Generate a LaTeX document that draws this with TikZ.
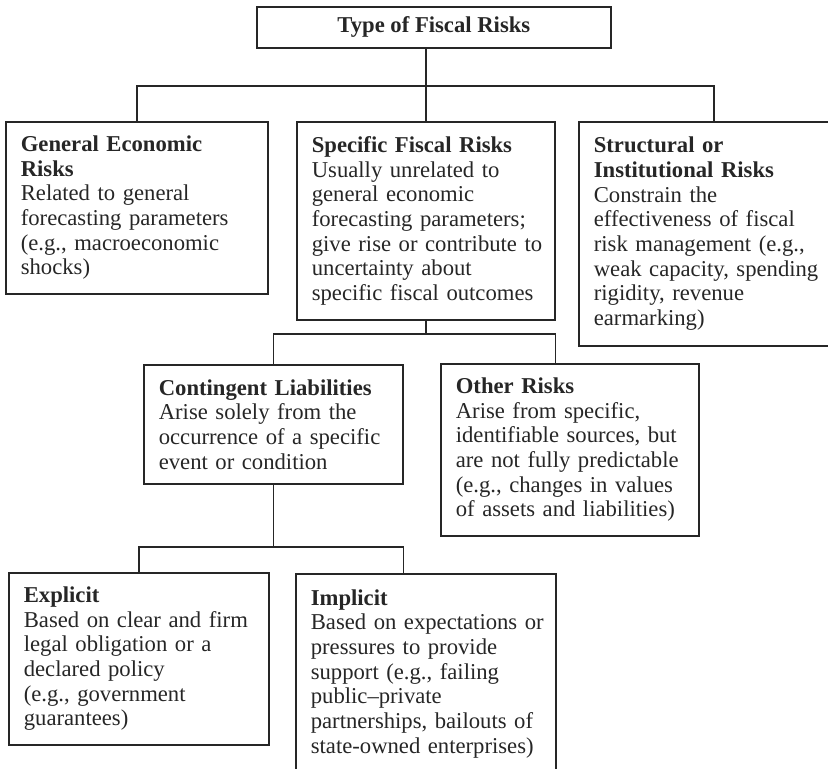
\documentclass[tikz,border=0pt]{standalone}
\usepackage{fontspec}
\setmainfont{Liberation Serif}
\usepackage{tikz}
\usetikzlibrary{positioning}
\definecolor{inkgray}{HTML}{262626}
\tikzset{
  risk/.style={draw=inkgray, line width=1pt, anchor=north west, align=left,
               inner xsep=9pt, inner ysep=0pt, text=inkgray,
               font=\fontsize{13.6}{14.8}\selectfont},
  head/.style={draw=inkgray, line width=1pt, anchor=north west, align=center,
               inner sep=0pt, text=inkgray, font=\fontsize{13.6}{14.8}\selectfont\bfseries},
  link/.style={draw=inkgray, line width=0.9pt},
}

\begin{document}
\begin{tikzpicture}[x=0.6pt, y=-0.6pt]
  \useasboundingbox (0,0) rectangle (828,769);
  \node[head, minimum width=212.4pt, minimum height=24.6pt] (top) at (256,6) {Type of Fiscal Risks};
  \node[risk, text width=139.2pt, minimum height=103.2pt] (gen) at (5,121)
    {\textbf{General Economic}\\ \textbf{Risks}\\ Related to general\\ forecasting parameters\\ (e.g., macroeconomic\\ shocks)};
  \node[risk, text width=136.8pt, minimum height=118.8pt] (spec) at (296,121)
    {\textbf{Specific Fiscal Risks}\\ Usually unrelated to\\ general economic\\ forecasting parameters;\\ \mbox{give rise or contribute to}\\ uncertainty about\\ specific fiscal outcomes};
  \node[risk, text width=144pt, minimum height=134.4pt] (struct) at (578,121)
    {\textbf{Structural or}\\ \textbf{Institutional Risks}\\ Constrain the\\ effectiveness of fiscal\\ risk management (e.g.,\\ weak capacity, spending\\ rigidity, revenue\\ earmarking)};
  \node[risk, text width=137.4pt, minimum height=71.4pt] (cont) at (143,364)
    {\textbf{Contingent Liabilities}\\ Arise solely from the\\ occurrence of a specific\\ event or condition};
  \node[risk, text width=136.8pt, minimum height=103.2pt] (other) at (440,363)
    {\textbf{Other Risks}\\ Arise from specific,\\ identifiable sources, but\\ are not fully predictable\\ (e.g., changes in values\\ of assets and liabilities)};
  \node[risk, text width=138pt, minimum height=103.2pt] (expl) at (8,572)
    {\textbf{Explicit}\\ Based on clear and firm\\ legal obligation or a\\ declared policy\\ (e.g., government\\ guarantees)};
  \node[risk, text width=138pt, minimum height=120pt] (impl) at (295,573)
    {\textbf{Implicit}\\ \mbox{Based on expectations or}\\ pressures to provide\\ support (e.g., failing\\ public--private\\ partnerships, bailouts of\\ state-owned enterprises)};
  % bus lines
  \coordinate (bus1) at (0,86);
  \coordinate (bus2) at (0,334);
  \coordinate (bus3) at (0,547);
  \draw[link] (top.south -| spec.north) -- (spec.north);
  \draw[link] (gen.north) -- (gen.north |- bus1) -- (struct.north |- bus1) -- (struct.north);
  \draw[link] (spec.south) -- (spec.south |- bus2);
  \draw[link] (cont.north) -- (cont.north |- bus2) -- (spec.south east |- bus2) -- (spec.south east |- other.north);
  \draw[link] (cont.south) -- (cont.south |- bus3);
  \draw[link] (expl.north) -- (expl.north |- bus3) -- (cont.south east |- bus3) -- (cont.south east |- impl.north);
\end{tikzpicture}
\end{document}
